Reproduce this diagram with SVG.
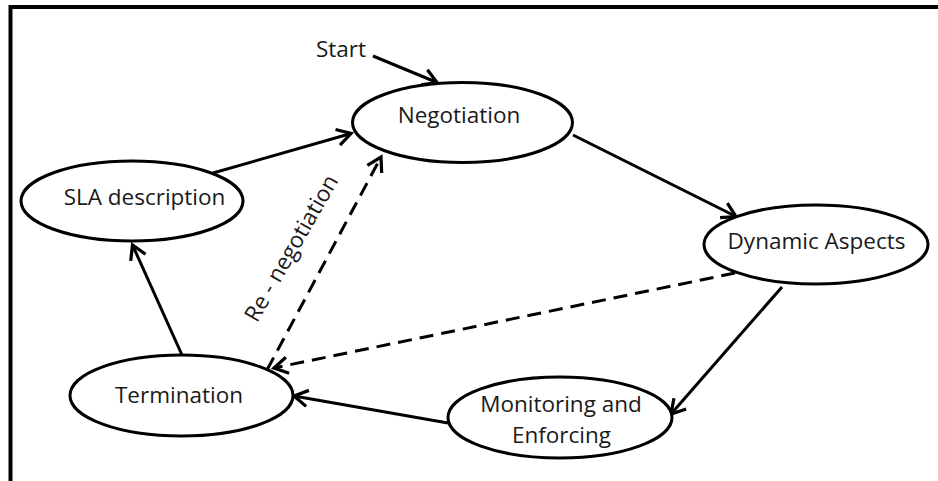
<svg xmlns="http://www.w3.org/2000/svg" width="938" height="481" viewBox="0 0 938 481">
  <style>
    .node ellipse { fill: #ffffff; stroke: #000000; stroke-width: 3; }
    .label { font-family: "Open Sans", "Liberation Sans", sans-serif; font-size: 22.5px; fill: #1a1a1a; text-anchor: middle; }
    .edge { fill: none; stroke: #000000; stroke-width: 3; }
    .dashed { stroke-dasharray: 14 8; }
  </style>
  <defs>
    <marker id="arrow" markerUnits="userSpaceOnUse" markerWidth="20" markerHeight="20" viewBox="-12 -8 14 16" refX="0" refY="0" orient="auto">
      <path d="M-11,-6.5 L0,0 L-11,6.5" fill="none" stroke="#000000" stroke-width="2.6"/>
    </marker>
  </defs>
  <rect x="0" y="0" width="938" height="481" fill="#ffffff"/>
  <rect id="frame" x="10.5" y="7" width="1000" height="600" fill="none" stroke="#000000" stroke-width="4"/>

  <g id="connectors">
    <path class="edge" d="M373,56 L437,82.5" marker-end="url(#arrow)"/>
    <path class="edge" d="M213,173 L351,133.5" marker-end="url(#arrow)"/>
    <path class="edge" d="M573,135 L736,216.5" marker-end="url(#arrow)"/>
    <path class="edge" d="M782,287 L671,414" marker-end="url(#arrow)"/>
    <path class="edge" d="M448,423 L294,396" marker-end="url(#arrow)"/>
    <path class="edge" d="M182,355 L132.5,245" marker-end="url(#arrow)"/>
    <path class="edge dashed" d="M267,370 L381,157" marker-end="url(#arrow)"/>
    <path class="edge dashed" d="M735,273 L274,368" marker-end="url(#arrow)"/>
    <text class="label" x="298" y="252" transform="rotate(-60.2 298 252)">Re - negotiation</text>
  </g>

  <g id="start">
    <text class="label" x="341" y="57">Start</text>
  </g>
  <g id="negotiation" class="node">
    <ellipse cx="462.5" cy="122.5" rx="110" ry="40"/>
    <text class="label" x="459" y="123">Negotiation</text>
  </g>
  <g id="sla-description" class="node">
    <ellipse cx="132" cy="201" rx="111" ry="40"/>
    <text class="label" x="144.5" y="205">SLA description</text>
  </g>
  <g id="dynamic-aspects" class="node">
    <ellipse cx="816" cy="244.5" rx="112" ry="39.5"/>
    <text class="label" x="816.5" y="249">Dynamic Aspects</text>
  </g>
  <g id="termination" class="node">
    <ellipse cx="181.5" cy="395.5" rx="111.5" ry="40.5"/>
    <text class="label" x="179" y="403">Termination</text>
  </g>
  <g id="monitoring-enforcing" class="node">
    <ellipse cx="560" cy="417.5" rx="112" ry="40.5"/>
    <text class="label" x="561" y="412">Monitoring and</text>
    <text class="label" x="561.5" y="443">Enforcing</text>
  </g>
</svg>
